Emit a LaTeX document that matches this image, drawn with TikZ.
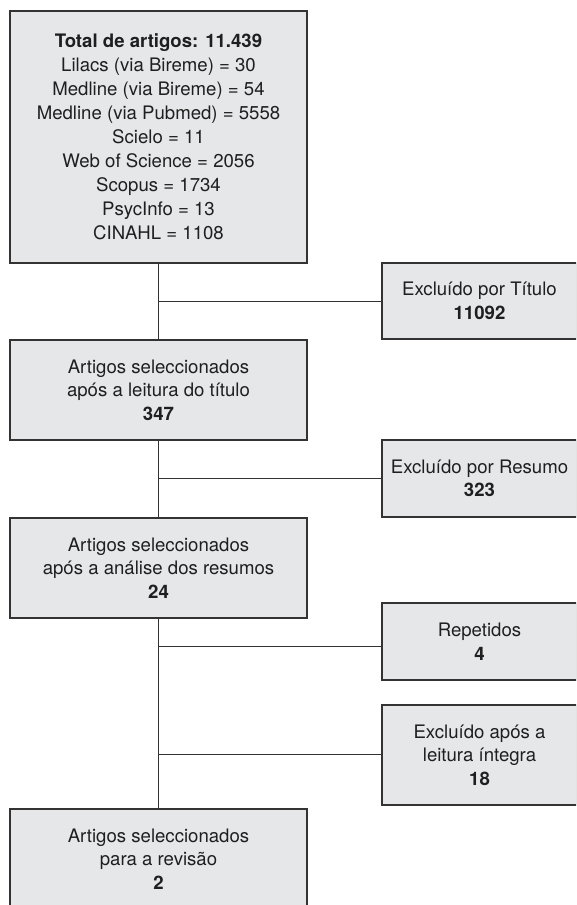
\documentclass[tikz,border=0pt]{standalone}
\usepackage{fontspec}
\setmainfont{TeX Gyre Heros}
\definecolor{boxfill}{HTML}{E6E7E8}
\definecolor{boxline}{HTML}{333333}
\tikzset{
  flowbox/.style={draw=boxline, line width=1.3pt, fill=boxfill, align=center, inner sep=0pt,
    font=\fontsize{18.6}{23.5}\selectfont, text=black!88},
  leftbox/.style={flowbox, minimum width=297pt},
  rightbox/.style={flowbox, minimum width=195pt},
  conn/.style={draw=boxline, line width=1pt}
}
\begin{document}
\begin{tikzpicture}[x=1pt,y=-1pt]
\clip (0,0) rectangle (576,905);
\fill[white] (0,0) rectangle (576,905);
% left column
\node[leftbox, minimum height=252pt, font=\fontsize{18.6}{24}\selectfont] (top) at (158.5,137)
  {\textbf{Total de artigos: 11.439}\\Lilacs (via Bireme) = 30\\Medline (via Bireme) = 54\\Medline (via Pubmed) = 5558\\Scielo = 11\\Web of Science = 2056\\Scopus = 1734\\PsycInfo = 13\\CINAHL = 1108};
\node[leftbox, minimum height=100pt] (b2) at (158.5,390)
  {Artigos seleccionados\\após a leitura do título\\\textbf{347}};
\node[leftbox, minimum height=100pt] (b3) at (158.5,568)
  {Artigos seleccionados\\após a análise dos resumos\\\textbf{24}};
\node[leftbox, minimum height=100pt] (b4) at (158.5,859)
  {Artigos seleccionados\\para a revisão\\\textbf{2}};
% right column
\node[rightbox, minimum height=76pt] (r1) at (479.5,301)
  {Excluído por Título\\\textbf{11092}};
\node[rightbox, minimum height=77pt] (r2) at (479.5,478.5)
  {Excluído por Resumo\\\textbf{323}};
\node[rightbox, minimum height=77pt] (r3) at (479.5,641.5)
  {Repetidos\\\textbf{4}};
\node[rightbox, minimum height=100pt] (r4) at (479.5,755)
  {Excluído após a\\leitura íntegra\\\textbf{18}};
% junctions
\coordinate (j1) at (158.5,301);
\coordinate (j2) at (158.5,478);
\coordinate (j3) at (158.5,646);
\coordinate (j4) at (158.5,754);
% connectors
\draw[conn] (top.south) -- (b2.north);
\draw[conn] (b2.south) -- (b3.north);
\draw[conn] (b3.south) -- (b4.north);
\draw[conn] (j1) -- (j1 -| r1.west);
\draw[conn] (j2) -- (j2 -| r2.west);
\draw[conn] (j3) -- (j3 -| r3.west);
\draw[conn] (j4) -- (j4 -| r4.west);
\end{tikzpicture}
\end{document}
